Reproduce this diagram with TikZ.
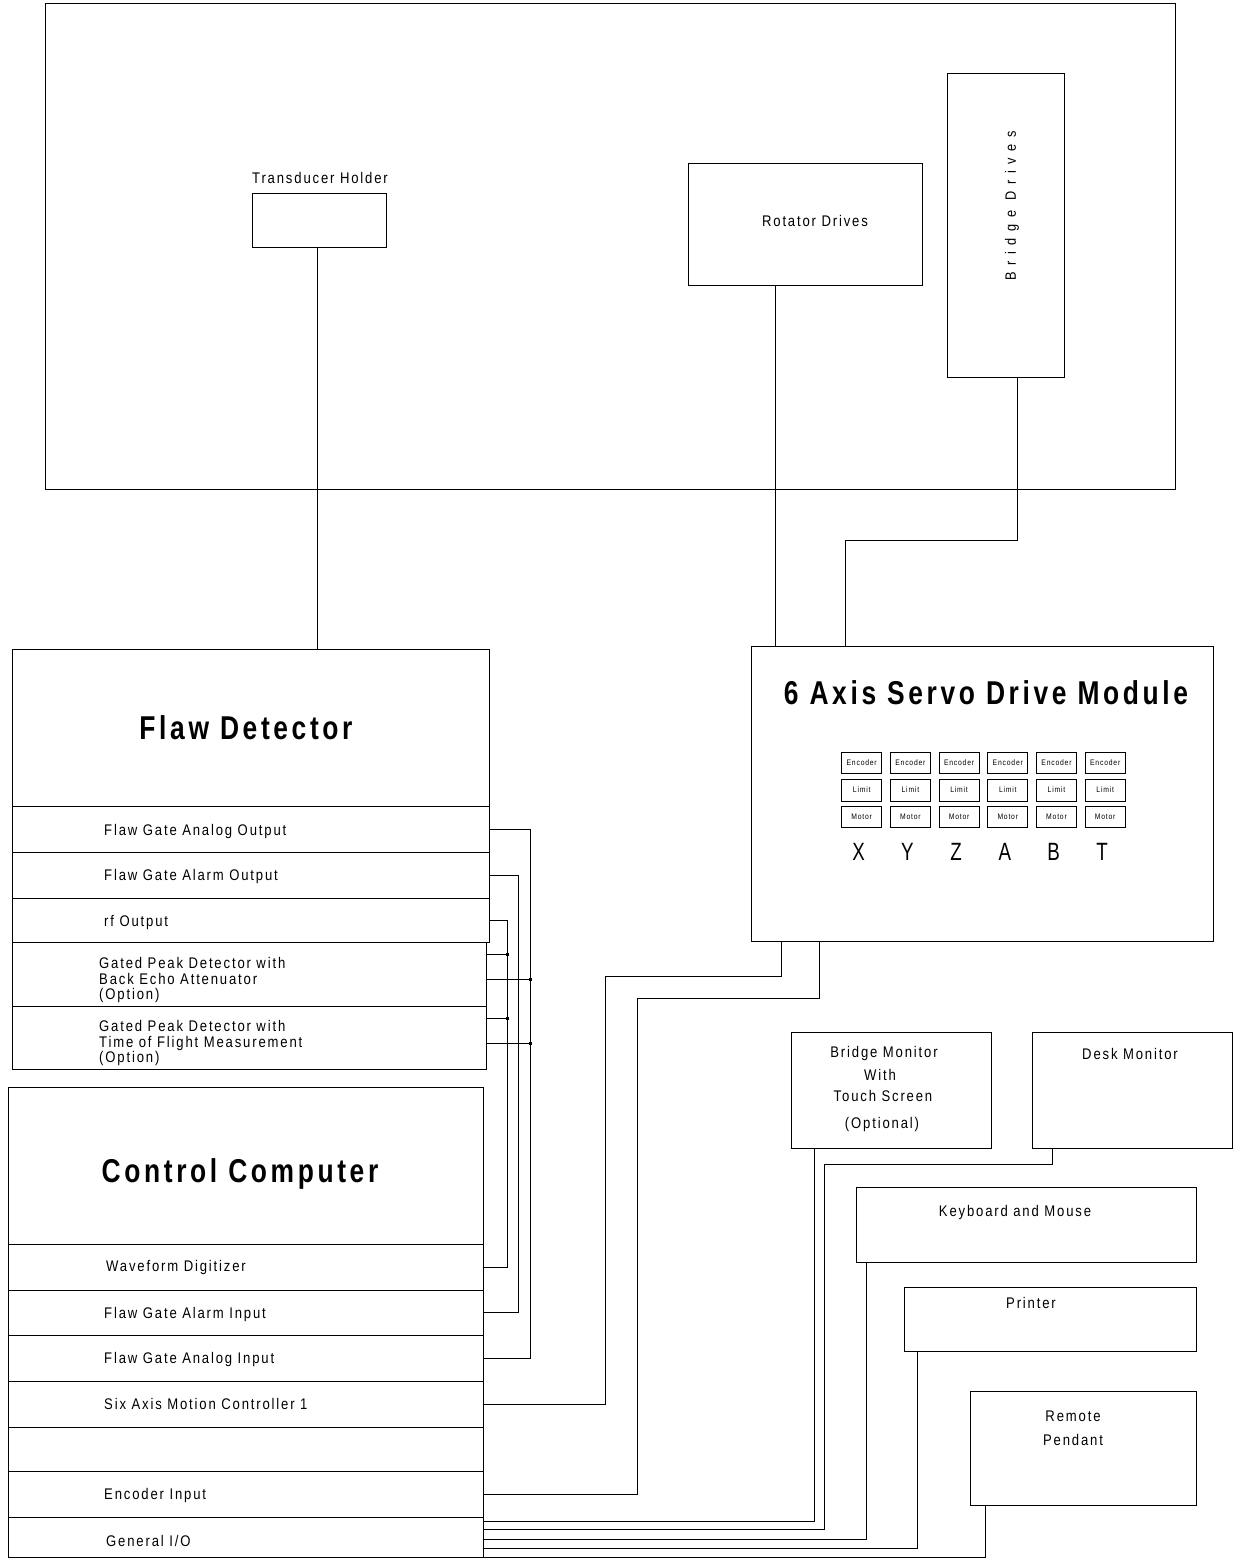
\documentclass[tikz,border=0pt]{standalone}
\usepackage{fontspec}
\setmainfont{Liberation Sans}
\newfontfamily\lblfont[LetterSpace=12,FakeStretch=0.85]{Liberation Sans}
\newfontfamily\ttlfont[LetterSpace=11,FakeStretch=0.8]{Liberation Sans}
\newfontfamily\cellfont[LetterSpace=10,FakeStretch=0.85]{Liberation Sans}
\newfontfamily\widefont[LetterSpace=44,FakeStretch=0.85]{Liberation Sans}
\newfontfamily\axfont[FakeStretch=0.75]{Liberation Sans}
\begin{document}
\begin{tikzpicture}[x=1pt,y=-1pt,
  box/.style={draw, rectangle, inner sep=0pt, line width=1pt},
  wire/.style={line width=1pt},
  lbl/.style={inner sep=0pt, anchor=base, font=\lblfont\fontsize{15.4}{16.5}\selectfont},
  lblw/.style={lbl, anchor=base west},
  ttl/.style={inner sep=0pt, anchor=base, font=\ttlfont\bfseries\fontsize{33}{36}\selectfont},
  cell/.style={box, minimum width=40pt, font=\cellfont\fontsize{8}{9}\selectfont},
  axl/.style={inner sep=0pt, anchor=base, font=\axfont\fontsize{25}{28}\selectfont},
  tap/.style={fill, inner sep=0pt, minimum size=3pt, rectangle}]
\useasboundingbox (0,0) rectangle (1233,1559);

% scanner area
\node[box, minimum width=1130pt, minimum height=486pt] (scan) at (610,246) {};
\node[box, minimum width=134pt, minimum height=54pt] (tdh) at (319,220) {};
\node[lbl] (tdhl) at (320,183) {Transducer Holder};
\node[box, minimum width=234pt, minimum height=122pt] (rot) at (805,224) {};
\node[lbl] (rotl) at (815,226.5) {Rotator Drives};
\node[box, minimum width=117pt, minimum height=304pt] (brd) at (1005.5,225) {};
\node[inner sep=0pt, rotate=90, font=\widefont\fontsize{15}{16}\selectfont] (brdl) at (1012,206) {Bridge Drives};

% flaw detector
\node[box, minimum width=477pt, minimum height=157pt] (fd) at (250.5,727.5) {};
\node[ttl] (fdl) at (246,739) {Flaw Detector};
\node[box, minimum width=477pt, minimum height=46pt] (fdr1) at (250.5,829) {};
\node[box, minimum width=477pt, minimum height=46pt] (fdr2) at (250.5,875) {};
\node[box, minimum width=477pt, minimum height=44pt] (fdr3) at (250.5,920) {};
\node[box, minimum width=474pt, minimum height=64pt] (fdr4) at (249,974) {};
\node[box, minimum width=474pt, minimum height=63pt] (fdr5) at (249,1037.5) {};
\node[lblw] (fdt1) at (104,835) {Flaw Gate Analog Output};
\node[lblw] (fdt2) at (104,880) {Flaw Gate Alarm Output};
\node[lblw] (fdt3) at (104,926.5) {rf Output};
\node[lblw] (fdt4a) at (99,968) {Gated Peak Detector with};
\node[lblw] (fdt4b) at (99,984) {Back Echo Attenuator};
\node[lblw] (fdt4c) at (99,999.5) {(Option)};
\node[lblw] (fdt5a) at (99,1031) {Gated Peak Detector with};
\node[lblw] (fdt5b) at (99,1047) {Time of Flight Measurement};
\node[lblw] (fdt5c) at (99,1062.5) {(Option)};

% control computer
\node[box, minimum width=475pt, minimum height=157pt] (cc) at (245.5,1165.5) {};
\node[ttl] (ccl) at (240,1182) {Control Computer};
\node[box, minimum width=475pt, minimum height=46pt] (ccr1) at (245.5,1267) {};
\node[box, minimum width=475pt, minimum height=45pt] (ccr2) at (245.5,1312.5) {};
\node[box, minimum width=475pt, minimum height=46pt] (ccr3) at (245.5,1358) {};
\node[box, minimum width=475pt, minimum height=46pt] (ccr4) at (245.5,1404) {};
\node[box, minimum width=475pt, minimum height=44pt] (ccr5) at (245.5,1449) {};
\node[box, minimum width=475pt, minimum height=46pt] (ccr6) at (245.5,1494) {};
\node[box, minimum width=475pt, minimum height=40pt] (ccr7) at (245.5,1537) {};
\node[lblw] (cct1) at (106,1271.5) {Waveform Digitizer};
\node[lblw] (cct2) at (104,1318.5) {Flaw Gate Alarm Input};
\node[lblw] (cct3) at (104,1363.5) {Flaw Gate Analog Input};
\node[lblw] (cct4) at (104,1409.5) {Six Axis Motion Controller 1};
\node[lblw] (cct6) at (104,1499.5) {Encoder Input};
\node[lblw] (cct7) at (106,1546.5) {General I/O};

% servo drive module
\node[box, minimum width=462pt, minimum height=295pt] (srv) at (982,793.5) {};
\node[ttl] (srvl) at (986,704) {6 Axis Servo Drive Module};
\foreach \n [count=\i from 0] in {X,Y,Z,A,B,T} {
  \pgfmathsetmacro\cx{861.7+48.7*\i}
  \node[cell, minimum height=21pt] (enc\n) at (\cx,762.5) {Encoder};
  \node[cell, minimum height=22pt] (lim\n) at (\cx,790) {Limit};
  \node[cell, minimum height=21pt] (mot\n) at (\cx,816.5) {Motor};
  \node[axl] (ax\n) at (\cx-3,860) {\n};
}

% peripherals
\node[box, minimum width=200pt, minimum height=116pt] (bm) at (891,1090) {};
\node[lbl] (bmt1) at (884,1057.5) {Bridge Monitor};
\node[lbl] (bmt2) at (880,1080.5) {With};
\node[lbl] (bmt3) at (883,1101.5) {Touch Screen};
\node[lbl] (bmt4) at (882,1128.5) {(Optional)};
\node[box, minimum width=200pt, minimum height=116pt] (dm) at (1132,1090) {};
\node[lbl] (dmt) at (1130,1059.5) {Desk Monitor};
\node[box, minimum width=340pt, minimum height=75pt] (kb) at (1026,1224.5) {};
\node[lbl] (kbt) at (1015,1216.5) {Keyboard and Mouse};
\node[box, minimum width=292pt, minimum height=64pt] (pr) at (1050,1319) {};
\node[lbl] (prt) at (1031,1308.5) {Printer};
\node[box, minimum width=226pt, minimum height=114pt] (rp) at (1083,1448) {};
\node[lbl] (rpt1) at (1073,1421.5) {Remote};
\node[lbl] (rpt2) at (1073,1445.5) {Pendant};

% connectors: scanner
\coordinate (tpx) at (317,0);
\draw[wire] (tdh.south -| tpx) -- (fd.north -| tpx);
\coordinate (rpx) at (775,0);
\draw[wire] (rot.south -| rpx) -- (srv.north -| rpx);
\coordinate (bb) at (1017,540);
\coordinate (bc) at (845,540);
\draw[wire] (brd.south -| bb) -- (bb) -- (bc) -- (srv.north -| bc);

% flaw detector <-> control computer
\coordinate (v1) at (530,0);
\coordinate (v2) at (518,0);
\coordinate (v3) at (507,0);
\draw[wire] (fdr1.east) -- (fdr1.east -| v1) -- (v1 |- ccr3.east) -- (ccr3.east);
\draw[wire] (fdr2.east) -- (fdr2.east -| v2) -- (v2 |- ccr2.east) -- (ccr2.east);
\draw[wire] (fdr3.east) -- (fdr3.east -| v3) -- (v3 |- ccr1.east) -- (ccr1.east);
\coordinate (t1) at (507,954);
\coordinate (t2) at (530,979);
\coordinate (t3) at (507,1018);
\coordinate (t4) at (530,1043);
\draw[wire] (fdr4.east |- t1) -- (t1);
\draw[wire] (fdr4.east |- t2) -- (t2);
\draw[wire] (fdr5.east |- t3) -- (t3);
\draw[wire] (fdr5.east |- t4) -- (t4);
\node[tap] (tp1) at (t1) {};
\node[tap] (tp2) at (t2) {};
\node[tap] (tp3) at (t3) {};
\node[tap] (tp4) at (t4) {};

% servo <-> control computer
\coordinate (sa) at (781,976);
\coordinate (sb) at (605,976);
\draw[wire] (srv.south -| sa) -- (sa) -- (sb) -- (sb |- ccr4.east) -- (ccr4.east);
\coordinate (sc) at (819,998);
\coordinate (sd) at (637,998);
\draw[wire] (srv.south -| sc) -- (sc) -- (sd) -- (sd |- ccr6.east) -- (ccr6.east);

% peripherals <-> general I/O
\coordinate (g1) at (814,1521);
\draw[wire] (bm.south -| g1) -- (g1) -- (g1 -| ccr7.east);
\coordinate (dm1) at (1052,1164);
\coordinate (g2) at (824,1529.5);
\draw[wire] (dm.south -| dm1) -- (dm1) -- (dm1 -| g2) -- (g2) -- (g2 -| ccr7.east);
\coordinate (g3) at (866,1539);
\draw[wire] (kb.south -| g3) -- (g3) -- (g3 -| ccr7.east);
\coordinate (g4) at (917,1548);
\draw[wire] (pr.south -| g4) -- (g4) -- (g4 -| ccr7.east);
\coordinate (g5) at (985,1557.5);
\draw[wire] (rp.south -| g5) -- (g5) -- (g5 -| ccr7.east);
\end{tikzpicture}
\end{document}
